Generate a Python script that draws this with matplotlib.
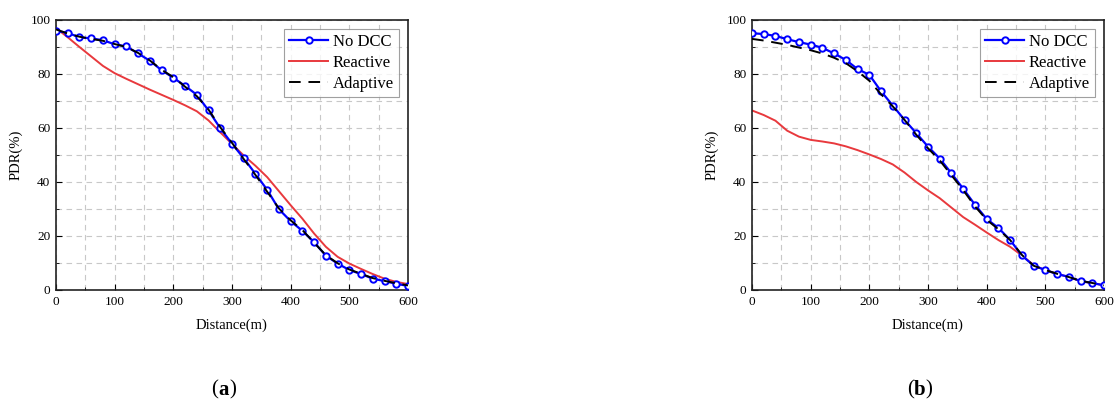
import matplotlib
matplotlib.use("Agg")
import matplotlib.pyplot as plt
from matplotlib.ticker import MultipleLocator

plt.rcParams['font.family'] = ['Liberation Serif', 'DejaVu Serif']

distance = list(range(0, 601, 20))

# Panel (a)
a_nodcc = [96, 95.2, 93.6, 93.2, 92.5, 91, 90.2, 87.6, 84.9, 81.4, 78.6, 75.6, 72.3,
           66.5, 59.9, 54.2, 48.8, 43.0, 37.1, 29.9, 25.5, 21.9, 17.7, 12.7, 9.8,
           7.4, 5.9, 4.2, 3.3, 2.3, 1.5]
a_reactive = [97, 93.6, 90, 86.5, 83, 80.3, 78.2, 76.2, 74.2, 72.3, 70.4, 68.4, 66.2,
              62.8, 58.4, 54.1, 49.8, 46, 41.8, 36.6, 31.4, 26.4, 20.9, 16, 12.3,
              9.8, 7.8, 5.9, 4.2, 3.0, 2.2]
a_adaptive = [96.5, 95.0, 93.8, 93.0, 92.3, 91.1, 90.0, 87.8, 85.0, 81.6, 78.8, 75.3, 71.8,
              66.8, 60.3, 54.5, 48.5, 42.6, 36.4, 30.2, 25.8, 22.2, 17.5, 12.9, 9.9,
              7.6, 6.0, 4.4, 3.4, 2.5, 1.7]

# Panel (b)
b_nodcc = [95.1, 94.8, 94.1, 92.9, 91.8, 90.9, 89.7, 87.6, 85.2, 81.8, 79.7, 73.6, 68.3,
           63, 58.1, 53.1, 48.7, 43.2, 37.5, 31.6, 26.3, 23, 18.5, 12.8, 9,
           7.4, 5.9, 4.9, 3.3, 2.6, 1.7]
b_reactive = [66.5, 64.8, 62.7, 59, 56.8, 55.6, 55, 54.3, 53.2, 51.8, 50.2, 48.5, 46.5,
              43.5, 40, 36.9, 34, 30.5, 27, 24.2, 21.3, 18.5, 16, 12.8, 9.3,
              7.3, 6, 4.8, 3.3, 2.5, 1.8]
b_adaptive = [93, 92.4, 91.6, 90.8, 89.8, 88.8, 87.6, 86, 84, 81, 77.5, 72.5, 68,
              63, 57.5, 52.5, 48, 42.5, 37, 31, 26, 22.5, 18.5, 13, 9,
              7.4, 6, 4.8, 3.4, 2.6, 1.7]

panels = [("(a)", a_nodcc, a_reactive, a_adaptive),
          ("(b)", b_nodcc, b_reactive, b_adaptive)]

fig = plt.figure(figsize=(11.16, 4.05), dpi=100)
positions = [[56/1116, 1-290/405, 352/1116, 270/405],
             [752/1116, 1-290/405, 352/1116, 270/405]]

for pos, (label, nodcc, reactive, adaptive) in zip(positions, panels):
    ax = fig.add_axes(pos)
    ax.plot(distance, nodcc, color='#0000ff', lw=1.6, marker='o', ms=4.6,
            mfc='white', mec='#0000ff', mew=1.4, label='No DCC', zorder=3)
    ax.plot(distance, reactive, color='#e8393d', lw=1.4, label='Reactive', zorder=2)
    ax.plot(distance, adaptive, color='black', lw=1.4, ls=(0, (6, 4)),
            label='Adaptive', zorder=4)
    ax.set_xlim(0, 600)
    ax.set_ylim(0, 100)
    ax.xaxis.set_major_locator(MultipleLocator(100))
    ax.xaxis.set_minor_locator(MultipleLocator(50))
    ax.yaxis.set_major_locator(MultipleLocator(20))
    ax.yaxis.set_minor_locator(MultipleLocator(10))
    ax.grid(True, which='both', color='#c8c8c8', ls=(0, (5, 4)), lw=0.8)
    ax.set_axisbelow(True)
    ax.tick_params(which='both', direction='in', labelsize=9.5, pad=4)
    ax.tick_params(which='major', length=4)
    ax.tick_params(which='minor', length=2.5)
    for s in ax.spines.values():
        s.set_linewidth(1.2)
        s.set_color('#222222')
    ax.set_xlabel('Distance(m)', fontsize=10.5, labelpad=8)
    ax.set_ylabel('PDR(%)', fontsize=10.5, labelpad=6)
    leg = ax.legend(loc='upper right', fontsize=12, frameon=True, fancybox=False,
                    edgecolor='#888888', borderpad=0.3, labelspacing=0.3,
                    handlelength=2.3, handletextpad=0.3, borderaxespad=0.55)
    leg.get_frame().set_linewidth(0.8)
    cx = pos[0] + pos[2] * 0.46
    fig.text(cx, 1-390/405, '(', fontsize=15, ha='right', va='center')
    fig.text(cx, 1-390/405, label[1], fontsize=15, fontweight='bold', ha='left', va='center')
    fig.text(cx + 0.0105, 1-390/405, ')', fontsize=15, ha='left', va='center')

fig.savefig('out.png', dpi=100)
